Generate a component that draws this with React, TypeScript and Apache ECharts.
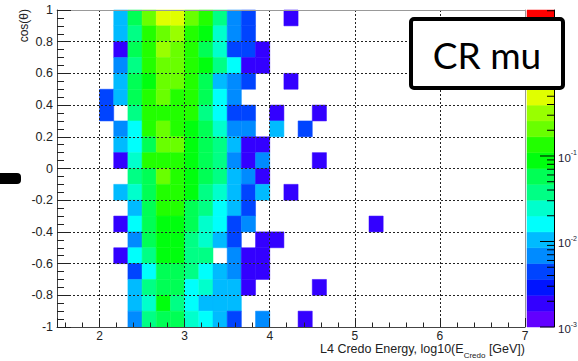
import { useEffect, useRef } from "react";
import * as echarts from "echarts";

const FONT = "'Liberation Sans', Arial, Helvetica, sans-serif";

// Low edges of the filled energy bins (log10 E [GeV]), bin width 1/6
const energyBinLow = [
  2.0, 2.16667, 2.33333, 2.5, 2.66667, 2.83333, 3.0, 3.16667, 3.33333, 3.5,
  3.66667, 3.83333, 4.0, 4.16667, 4.33333, 4.5, 4.66667, 4.83333, 5.0, 5.16667,
];
const energyBinWidth = 0.166667;

// Low edges of the cos(theta) bins, top row first
const cosBinLow = [
  0.9, 0.8, 0.7, 0.6, 0.5, 0.4, 0.3, 0.2, 0.1, 0.0,
  -0.1, -0.2, -0.3, -0.4, -0.5, -0.6, -0.7, -0.8, -0.9, -1.0,
];
const cosBinWidth = 0.1;

// Bin contents (0 = empty), one row per cos bin, columns follow energyBinLow
const zRows: number[][] = [
  [0, 0.0105, 0.058, 0.21, 0.49, 0.49, 0.21, 0.135, 0.038, 0.0068, 0.0045, 0, 0, 0.0019, 0, 0, 0, 0, 0, 0],
  [0, 0.0105, 0.038, 0.135, 0.21, 0.32, 0.135, 0.088, 0.025, 0.0068, 0.0045, 0, 0, 0, 0, 0, 0, 0, 0, 0],
  [0, 0.0019, 0.058, 0.135, 0.32, 0.21, 0.135, 0.058, 0.025, 0.0045, 0.0045, 0.0019, 0, 0, 0, 0, 0, 0, 0, 0],
  [0, 0.0068, 0.038, 0.135, 0.21, 0.21, 0.135, 0.088, 0.038, 0.016, 0.0019, 0.0019, 0, 0, 0, 0, 0, 0, 0, 0],
  [0, 0.0105, 0.058, 0.088, 0.21, 0.21, 0.135, 0.058, 0.0105, 0.0068, 0.0045, 0, 0, 0.0019, 0, 0, 0, 0, 0, 0],
  [0.0045, 0.0105, 0.058, 0.135, 0.21, 0.135, 0.135, 0.058, 0.016, 0.0068, 0, 0, 0, 0, 0, 0, 0, 0, 0, 0],
  [0.0045, 0, 0.038, 0.135, 0.135, 0.135, 0.135, 0.038, 0.016, 0.0045, 0.0045, 0, 0.0019, 0, 0, 0.0019, 0, 0, 0, 0],
  [0, 0.0068, 0.016, 0.135, 0.21, 0.135, 0.088, 0.058, 0.025, 0.0068, 0.0068, 0, 0.0105, 0, 0.0045, 0, 0, 0, 0, 0],
  [0, 0.0105, 0.016, 0.058, 0.21, 0.21, 0.088, 0.058, 0.038, 0.0105, 0.0019, 0.0019, 0, 0, 0, 0, 0, 0, 0, 0],
  [0, 0.0019, 0.025, 0.135, 0.135, 0.135, 0.088, 0.058, 0.038, 0.0068, 0.0019, 0.0068, 0, 0, 0, 0.0019, 0, 0, 0, 0],
  [0, 0, 0.038, 0.058, 0.21, 0.135, 0.088, 0.058, 0.038, 0.0105, 0.0068, 0.0019, 0, 0, 0, 0, 0, 0, 0, 0],
  [0, 0.0105, 0.025, 0.058, 0.135, 0.135, 0.088, 0.038, 0.025, 0.0105, 0.0045, 0.0105, 0, 0.0019, 0, 0, 0, 0, 0, 0],
  [0, 0, 0.0105, 0.058, 0.135, 0.135, 0.058, 0.038, 0.016, 0.0105, 0.0045, 0, 0, 0, 0, 0, 0, 0, 0, 0],
  [0, 0.0019, 0.016, 0.058, 0.088, 0.088, 0.058, 0.025, 0.016, 0.0045, 0.0068, 0, 0, 0, 0, 0, 0, 0, 0, 0.0019],
  [0, 0, 0.0068, 0.058, 0.088, 0.088, 0.038, 0.025, 0.0105, 0.0045, 0, 0.0019, 0.0019, 0, 0, 0, 0, 0, 0, 0],
  [0, 0.0019, 0.016, 0.038, 0.088, 0.088, 0.038, 0.038, 0, 0.0068, 0.0019, 0.0019, 0, 0, 0, 0, 0, 0, 0, 0],
  [0, 0, 0.0045, 0.016, 0.058, 0.058, 0.038, 0.016, 0.0105, 0.0068, 0.0019, 0.0019, 0, 0, 0, 0, 0, 0, 0, 0],
  [0, 0, 0.0105, 0.038, 0.058, 0.058, 0.016, 0.025, 0.0105, 0.0105, 0.0019, 0, 0, 0, 0, 0.0019, 0, 0, 0, 0],
  [0, 0, 0.0105, 0.025, 0.088, 0.038, 0.016, 0.0105, 0.0105, 0.0105, 0, 0, 0, 0, 0, 0, 0, 0, 0, 0],
  [0, 0, 0.0068, 0.038, 0.058, 0.058, 0.025, 0.016, 0.0105, 0.0045, 0, 0.0068, 0, 0, 0.0019, 0, 0, 0, 0, 0],
];

// 20-level palette (violet -> red)
const palette = [
  "#6200ff", "#3300ff", "#0014ff", "#0044ff", "#008bff",
  "#00bbff", "#00fffc", "#00ffcc", "#00ff85", "#00ff55",
  "#00ff0e", "#22ff00", "#69ff00", "#99ff00", "#e0ff00",
  "#ffee00", "#ffa700", "#ff7700", "#ff3000", "#ff0000",
];
const zMin = 0.001;
const zMax = 5.1;

export default function App() {
  const ref = useRef<HTMLDivElement>(null);

  useEffect(() => {
    if (!ref.current) return;
    const chart = echarts.init(ref.current, undefined, { renderer: "svg" });

    const logMin = Math.log10(zMin);
    const logMax = Math.log10(zMax);
    const nLev = palette.length;
    const step = (logMax - logMin) / nLev;
    const bands = palette.map((_, j) => [
      0,
      Math.pow(10, logMin + j * step),
      Math.pow(10, logMin + (j + 1) * step),
      j,
    ]);
    const pieces = bands.map((b, j) => ({
      gte: b[1],
      lt: j === nLev - 1 ? b[2] * 10 : b[2],
      color: palette[j],
    }));

    const cells: number[][] = [];
    zRows.forEach((row, r) => {
      row.forEach((v, c) => {
        if (v > 0) cells.push([energyBinLow[c], cosBinLow[r], v]);
      });
    });

    const ticks: number[][] = [];
    for (let e = -3; e <= 0; e++) {
      for (let m = 1; m <= 9; m++) {
        const v = m * Math.pow(10, e);
        if (v >= zMin && v <= zMax) ticks.push([1, v, m === 1 ? 1 : 0]);
      }
    }

    const option: any = {
      animation: false,
      backgroundColor: "#ffffff",
      textStyle: { fontFamily: FONT },
      grid: [
        { left: 57, top: 10, width: 468, height: 317, show: false, containLabel: false, outerBoundsMode: "none" },
        { left: 527, top: 10, width: 27, height: 317, show: false, containLabel: false, outerBoundsMode: "none" },
      ],
      visualMap: {
        type: "piecewise",
        show: false,
        seriesIndex: 0,
        dimension: 2,
        pieces,
      },
      xAxis: [
        {
          type: "value",
          gridIndex: 0,
          min: 1.5,
          max: 7,
          position: "bottom",
          z: 3,
          axisLine: { show: true, onZero: false, lineStyle: { color: "#444", width: 1 } },
          axisTick: { show: true, inside: true, length: 9, lineStyle: { color: "#222" } },
          minorTick: { show: true, splitNumber: 5, length: 4.5, lineStyle: { color: "#222" } },
          axisLabel: {
            showMinLabel: false,
            margin: 4,
            fontSize: 12,
            lineHeight: 10,
            color: "#222",
            fontFamily: FONT,
          },
          splitLine: {
            show: true,
            showMinLine: false,
            showMaxLine: false,
            lineStyle: { color: "#222", type: [2, 2], width: 1 },
          },
        },
        {
          type: "value",
          gridIndex: 0,
          min: 1.5,
          max: 7,
          position: "top",
          z: 3,
          axisLine: { show: true, onZero: false, lineStyle: { color: "#999", width: 1 } },
          axisTick: { show: false },
          axisLabel: { show: false },
          splitLine: { show: false },
        },
        { type: "value", gridIndex: 1, min: 0, max: 1, show: false },
      ],
      yAxis: [
        {
          type: "value",
          gridIndex: 0,
          min: -1,
          max: 1,
          interval: 0.2,
          position: "left",
          z: 3,
          axisLine: { show: true, onZero: false, lineStyle: { color: "#444", width: 1 } },
          axisTick: { show: true, inside: true, length: 14, lineStyle: { color: "#222" } },
          minorTick: { show: true, splitNumber: 4, length: 7, lineStyle: { color: "#222" } },
          axisLabel: { margin: 4, fontSize: 12.5, color: "#222", fontFamily: FONT },
          splitLine: {
            show: true,
            showMinLine: false,
            showMaxLine: false,
            lineStyle: { color: "#222", type: [2, 2], width: 1 },
          },
        },
        {
          type: "value",
          gridIndex: 0,
          min: -1,
          max: 1,
          position: "right",
          z: 3,
          axisLine: { show: true, onZero: false, lineStyle: { color: "#999", width: 1 } },
          axisTick: { show: false },
          axisLabel: { show: false },
          splitLine: { show: false },
        },
        {
          type: "log",
          logBase: 10,
          gridIndex: 1,
          min: zMin,
          max: zMax,
          position: "right",
          z: 3,
          axisLine: { show: true, onZero: false, lineStyle: { color: "#000", width: 1 } },
          axisTick: { show: false },
          splitLine: { show: false },
          axisLabel: {
            margin: 4,
            showMaxLabel: false,
            formatter: (v: number) => {
              const e = Math.round(Math.log10(v));
              if (e === 0) return "{b|1}";
              return "{b|10}{s|" + e + "}";
            },
            rich: {
              b: { fontSize: 11.5, color: "#223", fontFamily: FONT, lineHeight: 13, padding: [4, 0, 0, 0] },
              s: { fontSize: 7, color: "#223", fontFamily: FONT, lineHeight: 8, verticalAlign: "top" },
            },
          },
        },
      ],
      series: [
        {
          type: "custom",
          xAxisIndex: 0,
          yAxisIndex: 0,
          z: 2,
          dimensions: ["x", "y", "z"],
          encode: { x: 0, y: 1 },
          data: cells,
          renderItem: (params: any, api: any) => {
            const x0 = api.value(0) as number;
            const y0 = api.value(1) as number;
            const p0 = api.coord([x0, y0 + cosBinWidth]);
            const p1 = api.coord([x0 + energyBinWidth, y0]);
            const c = api.visual("color");
            return {
              type: "rect",
              shape: { x: p0[0], y: p0[1], width: p1[0] - p0[0], height: p1[1] - p0[1] },
              style: { fill: c, stroke: c, lineWidth: 0.5 },
            };
          },
        },
        {
          type: "custom",
          xAxisIndex: 2,
          yAxisIndex: 2,
          z: 2,
          encode: { x: 0, y: 1 },
          data: bands,
          renderItem: (params: any, api: any) => {
            const lo = api.value(1) as number;
            const hi = api.value(2) as number;
            const j = api.value(3) as number;
            const p0 = api.coord([0, hi]);
            const p1 = api.coord([1, lo]);
            return {
              type: "rect",
              shape: { x: p0[0], y: p0[1], width: p1[0] - p0[0], height: p1[1] - p0[1] },
              style: { fill: palette[j], stroke: palette[j], lineWidth: 0.5 },
            };
          },
        },
        {
          type: "custom",
          xAxisIndex: 2,
          yAxisIndex: 2,
          z: 4,
          encode: { x: 0, y: 1 },
          data: ticks,
          renderItem: (params: any, api: any) => {
            const v = api.value(1) as number;
            const major = api.value(2) as number;
            const p = api.coord([1, v]);
            const len = major ? 14 : 7;
            return {
              type: "line",
              shape: { x1: p[0] - len, y1: p[1], x2: p[0], y2: p[1] },
              style: { stroke: "#000", lineWidth: 1 },
            };
          },
        },
      ],
      graphic: [
        {
          type: "rect",
          z: 50,
          shape: { x: -6, y: 173, width: 27, height: 11, r: 4 },
          style: { fill: "#000" },
        },
        {
          type: "text",
          z: 50,
          x: 24,
          y: 9,
          rotation: Math.PI / 2,
          style: {
            text: "cos(θ)",
            fontSize: 12,
            fontFamily: FONT,
            fill: "#222",
            align: "right",
            verticalAlign: "middle",
          },
        },
        {
          type: "text",
          z: 50,
          x: 525,
          y: 342.5,
          style: {
            text: "{a|L4 Credo Energy, log10(E}{s|Credo}{a| [GeV])}",
            align: "right",
            verticalAlign: "top",
            rich: {
              a: { fontSize: 12.5, fontFamily: FONT, fill: "#222", lineHeight: 10, verticalAlign: "top" },
              s: { fontSize: 8, fontFamily: FONT, fill: "#222", lineHeight: 9, verticalAlign: "top", padding: [8.5, 0, 0, 0] },
            },
          },
        },
        {
          type: "rect",
          z: 100,
          shape: { x: 411, y: 19, width: 152, height: 69, r: 3 },
          style: { fill: "#ffffff", stroke: "#000000", lineWidth: 4 },
        },
        {
          type: "text",
          z: 101,
          x: 487,
          y: 54,
          style: {
            text: "CR mu",
            fontSize: 37,
            fontFamily: "Lato, 'Open Sans', sans-serif",
            fill: "#000",
            align: "center",
            verticalAlign: "middle",
          },
        },
      ],
    };

    chart.setOption(option);
    return () => chart.dispose();
  }, []);

  return (
    <div
      ref={ref}
      style={{ position: "fixed", left: 0, top: 0, width: 578, height: 361, background: "#fff" }}
    />
  );
}
